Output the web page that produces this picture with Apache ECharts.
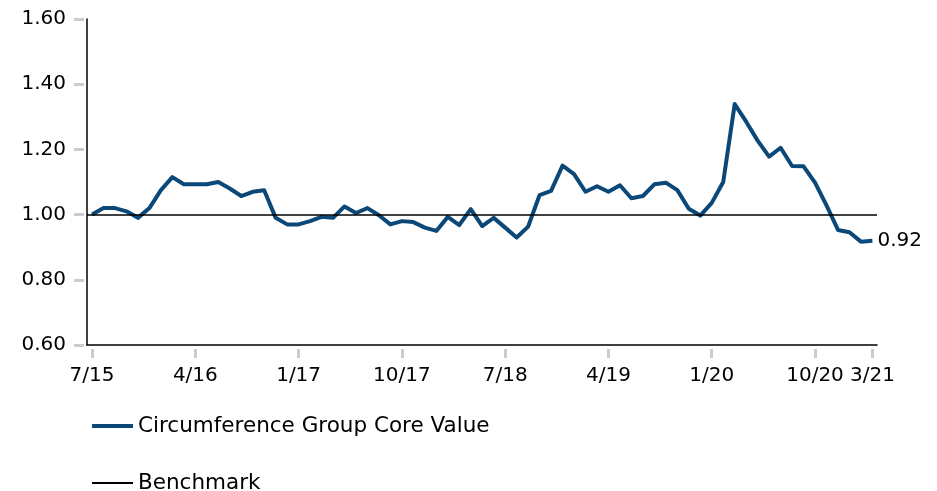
<!DOCTYPE html>
<html>
<head>
<meta charset="utf-8">
<script src="https://cdn.jsdelivr.net/npm/echarts@6/dist/echarts.min.js"></script>
<style>
  html, body { margin: 0; padding: 0; background: #fff; }
  #chart { width: 937px; height: 491px; }
</style>
</head>
<body>
<div id="chart"></div>
<script>
// Monthly index values, 7/15 through 3/21 (month 0 = July 2015)
const seriesName = 'Circumference Group Core Value';
const coreValue = [
  1.00, 1.02, 1.02, 1.01, 0.99, 1.02, 1.075, 1.115, 1.093, 1.093,
  1.093, 1.10, 1.08, 1.057, 1.07, 1.075, 0.99, 0.97, 0.97, 0.98,
  0.993, 0.99, 1.025, 1.005, 1.02, 0.998, 0.97, 0.98, 0.977, 0.96,
  0.95, 0.993, 0.968, 1.017, 0.965, 0.99, 0.96, 0.93, 0.963, 1.06,
  1.073, 1.15, 1.124, 1.07, 1.087, 1.07, 1.09, 1.05, 1.057, 1.093,
  1.098, 1.075, 1.018, 0.997, 1.036, 1.10, 1.339, 1.285, 1.227, 1.178,
  1.205, 1.149, 1.148, 1.098, 1.028, 0.953, 0.946, 0.917, 0.92
];
const benchmarkName = 'Benchmark';
const benchmarkLevel = 1.00;

// X tick positions (month index) and their labels
const tickMonths = [0, 9, 18, 27, 36, 45, 54, 63, 68];
const tickLabels = ['7/15', '4/16', '1/17', '10/17', '7/18', '4/19', '1/20', '10/20', '3/21'];

// Y axis range
const yMin = 0.6, yMax = 1.6, yStep = 0.2;

const FONT = 'DejaVu Sans, Liberation Sans, sans-serif';
const BLUE = '#0b4878';
const TICK_GRAY = '#c9ccd0';

const xMin = -0.44, xMax = 68.4;
const labelMap = {};
tickMonths.forEach((m, i) => { labelMap[m] = tickLabels[i]; });

const chart = echarts.init(document.getElementById('chart'), null, { renderer: 'canvas' });

const baseX = { type: 'value', min: xMin, max: xMax, splitLine: { show: false } };
const baseY = { type: 'value', min: yMin, max: yMax, interval: yStep, splitLine: { show: false } };

// one legend box per entry so each row sits at its own height
function legendRow(name, top, lineHeight) {
  return {
    orient: 'vertical',
    left: 87,
    top: top,
    itemWidth: 41,
    itemHeight: lineHeight,
    itemGap: 0,
    icon: 'rect',
    textStyle: { color: '#000', fontFamily: FONT, fontSize: 21.5, padding: [0, 0, 0, 0] },
    data: [name]
  };
}

chart.setOption({
  animation: false,
  backgroundColor: '#fff',
  grid: { left: 87, top: 19, right: 60, bottom: 146, containLabel: false },
  xAxis: [
    Object.assign({}, baseX, {
      position: 'bottom',
      axisLine: { show: true, onZero: false, lineStyle: { color: '#000', width: 1.5 } },
      axisTick: { show: false },
      axisLabel: { show: false }
    }),
    Object.assign({}, baseX, {
      position: 'bottom',
      offset: 4,
      axisLine: { show: false, onZero: false },
      axisTick: {
        show: true, length: 9, customValues: tickMonths,
        lineStyle: { color: TICK_GRAY, width: 3 }
      },
      axisLabel: {
        show: true, customValues: tickMonths, margin: 17,
        color: '#000', fontFamily: FONT, fontSize: 20,
        formatter: v => labelMap[Math.round(v)] || ''
      }
    })
  ],
  yAxis: [
    Object.assign({}, baseY, {
      position: 'left',
      axisLine: { show: true, onZero: false, lineStyle: { color: '#000', width: 1.5 } },
      axisTick: { show: false },
      axisLabel: { show: false }
    }),
    Object.assign({}, baseY, {
      position: 'left',
      offset: 3,
      axisLine: { show: false, onZero: false },
      axisTick: { show: true, length: 10, lineStyle: { color: TICK_GRAY, width: 3 } },
      axisLabel: {
        show: true, margin: 18, color: '#000', fontFamily: FONT, fontSize: 20,
        formatter: v => v.toFixed(2)
      }
    })
  ],
  legend: [
    legendRow(seriesName, 410, 4),
    legendRow(benchmarkName, 467, 2)
  ],
  series: [
    {
      name: benchmarkName,
      type: 'line',
      xAxisIndex: 0,
      yAxisIndex: 0,
      data: [],
      symbol: 'none',
      lineStyle: { color: '#000', width: 1.5 },
      itemStyle: { color: '#000' },
      markLine: {
        silent: true,
        symbol: 'none',
        label: { show: false },
        lineStyle: { color: '#000', width: 1.5, type: 'solid' },
        data: [{ yAxis: benchmarkLevel }]
      }
    },
    {
      name: seriesName,
      type: 'line',
      xAxisIndex: 0,
      yAxisIndex: 0,
      z: 3,
      data: coreValue.map((v, i) => [i, v]),
      symbol: 'none',
      lineStyle: { color: BLUE, width: 4, join: 'round' },
      itemStyle: { color: BLUE },
      endLabel: {
        show: true,
        distance: 5,
        color: '#000',
        fontFamily: FONT,
        fontSize: 20,
        formatter: p => p.value[1].toFixed(2)
      }
    }
  ]
});
</script>
</body>
</html>
